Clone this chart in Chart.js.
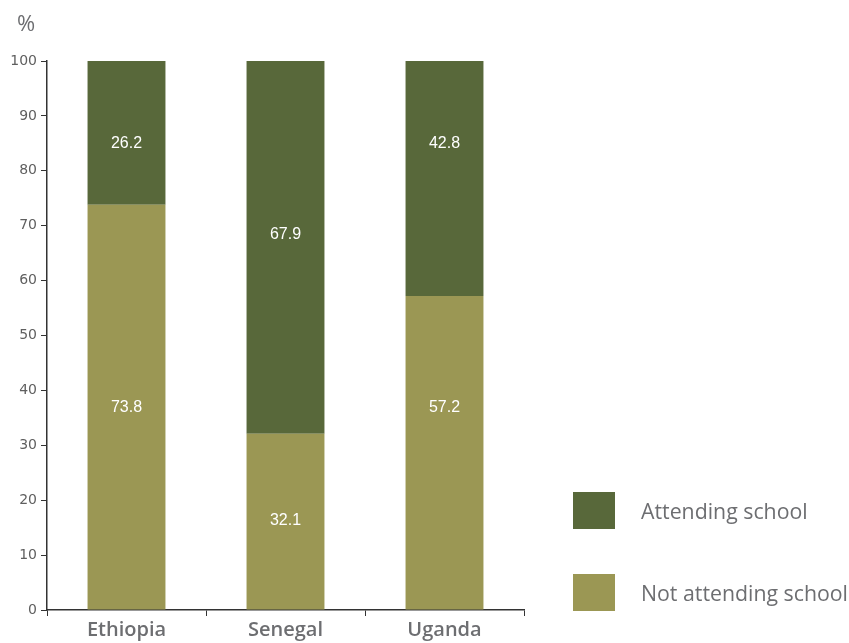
<!DOCTYPE html>
<html>
<head>
<meta charset="utf-8">
<script src="https://cdn.jsdelivr.net/npm/chart.js@4"></script>
<style>
  html, body { margin: 0; padding: 0; background: #fff; }
  #wrap { position: relative; width: 849px; height: 643px; }
  #pct { position: absolute; left: 17px; top: 7px; font: 22px "Open Sans", sans-serif; color: #6d6e71; }
  .leg { position: absolute; left: 573px; display: flex; align-items: center; font: 21.3px "Open Sans", sans-serif; color: #6d6e71; white-space: nowrap; }
  .sw { width: 42px; height: 37px; margin-right: 26px; }
</style>
</head>
<body>
<div id="wrap">
  <canvas id="c" width="849" height="643"></canvas>
  <div id="pct">%</div>
  <div id="legend"></div>
</div>
<script>
const categories = ["Ethiopia", "Senegal", "Uganda"];
const notAttending = [73.8, 32.1, 57.2];
const attending = [26.2, 67.9, 42.8];
const seriesNames = ["Not attending school", "Attending school"];
const seriesColors = ["#9b9754", "#58683a"];
const yTicks = [0, 10, 20, 30, 40, 50, 60, 70, 80, 90, 100];
// where the value labels sit on the value axis (as placed in the original)
const notAttendingLabelAt = [36.8, 16.2, 36.8];
const attendingLabelAt = [84.9, 68.3, 84.9];

const valueLabels = {
  id: 'valueLabels',
  afterDatasetsDraw(chart) {
    const ctx = chart.ctx;
    const yScale = chart.scales.y;
    const anchors = [notAttendingLabelAt, attendingLabelAt];
    ctx.save();
    ctx.fillStyle = '#ffffff';
    ctx.font = '16px "Liberation Sans", Arial, sans-serif';
    ctx.textAlign = 'center';
    ctx.textBaseline = 'middle';
    chart.data.datasets.forEach((ds, i) => {
      chart.getDatasetMeta(i).data.forEach((bar, j) => {
        const y = yScale.getPixelForValue(anchors[i][j]);
        ctx.fillText(ds.data[j].toFixed(1), bar.x, y);
      });
    });
    ctx.restore();
  }
};

new Chart(document.getElementById('c'), {
  type: 'bar',
  data: {
    labels: categories,
    datasets: [
      { label: seriesNames[0], data: notAttending, backgroundColor: seriesColors[0] },
      { label: seriesNames[1], data: attending, backgroundColor: seriesColors[1] }
    ]
  },
  options: {
    responsive: false,
    animation: false,
    layout: { padding: { top: 61, right: 325, left: 0, bottom: 0 } },
    plugins: { legend: { display: false }, tooltip: { enabled: false } },
    datasets: { bar: { barPercentage: 0.49, categoryPercentage: 1.0 } },
    scales: {
      x: {
        stacked: true,
        afterFit(s) { s.height = 33; },
        grid: { display: true, drawOnChartArea: false, drawTicks: true, tickLength: 6, offset: true, color: '#333' },
        border: { display: true, color: '#333', width: 1.5 },
        ticks: { color: '#6d6e71', font: { family: '"Open Sans", sans-serif', size: 20, weight: '600' }, padding: 2 }
      },
      y: {
        stacked: true,
        min: 0, max: 100,
        afterFit(s) { s.width = 47; },
        afterBuildTicks(s) { s.ticks = yTicks.map(v => ({ value: v })); },
        grid: { display: true, drawOnChartArea: false, drawTicks: true, tickLength: 6, color: '#333' },
        border: { display: true, color: '#333', width: 1.5 },
        ticks: { color: '#5f5f5f', font: { family: '"DejaVu Sans", sans-serif', size: 14 }, padding: 4 }
      }
    }
  },
  plugins: [valueLabels]
});

const legend = document.getElementById('legend');
[[1, 492], [0, 574]].forEach(([i, top]) => {
  const d = document.createElement('div');
  d.className = 'leg';
  d.style.top = top + 'px';
  const sw = document.createElement('div');
  sw.className = 'sw';
  sw.style.background = seriesColors[i];
  const t = document.createElement('span');
  t.textContent = seriesNames[i];
  d.appendChild(sw); d.appendChild(t);
  legend.appendChild(d);
});
</script>
</body>
</html>
